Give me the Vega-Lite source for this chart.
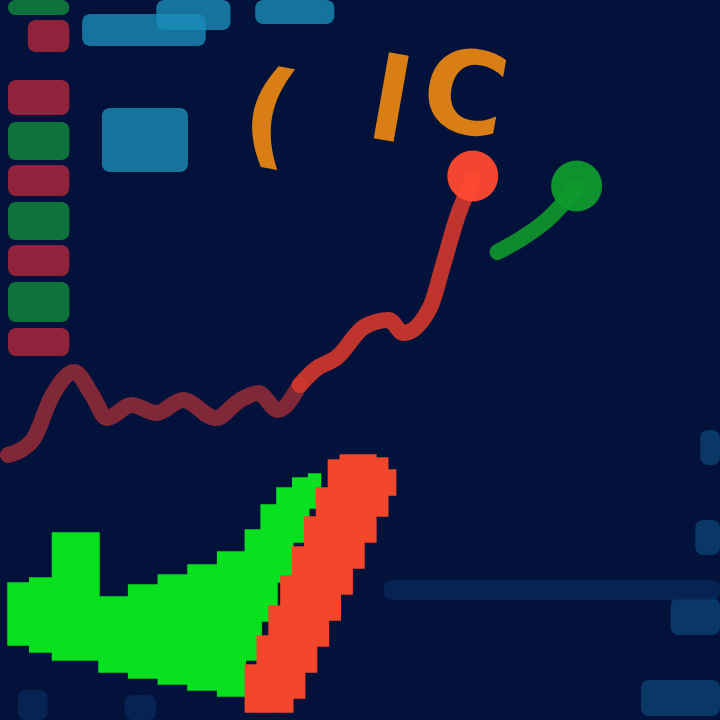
{
  "$schema": "https://vega.github.io/schema/vega-lite/v6.json",
  "width": 720,
  "height": 720,
  "autosize": {"type": "fit", "contains": "padding"},
  "padding": 0,
  "background": "#03123a",
  "config": {"view": {"stroke": null}, "axis": {"disable": true}},
  "datasets": {
    "blocks": [
      {"x": 0, "x2": 62, "y": 0, "y2": 15, "kind": "stripe_up"},
      {"x": 20, "x2": 62, "y": 20, "y2": 52, "kind": "stripe_down"},
      {"x": 0, "x2": 62, "y": 80, "y2": 115, "kind": "stripe_down"},
      {"x": 0, "x2": 62, "y": 122, "y2": 160, "kind": "stripe_up"},
      {"x": 0, "x2": 62, "y": 165, "y2": 196, "kind": "stripe_down"},
      {"x": 0, "x2": 62, "y": 202, "y2": 240, "kind": "stripe_up"},
      {"x": 0, "x2": 62, "y": 245, "y2": 276, "kind": "stripe_down"},
      {"x": 0, "x2": 62, "y": 282, "y2": 322, "kind": "stripe_up"},
      {"x": 0, "x2": 62, "y": 328, "y2": 356, "kind": "stripe_down"},
      {"x": 75, "x2": 200, "y": 14, "y2": 46, "kind": "cyan"},
      {"x": 150, "x2": 225, "y": 0, "y2": 30, "kind": "cyan"},
      {"x": 250, "x2": 330, "y": 0, "y2": 24, "kind": "cyan"},
      {"x": 95, "x2": 182, "y": 108, "y2": 172, "kind": "cyan"},
      {"x": 700, "x2": 720, "y": 430, "y2": 465, "kind": "cyan_faint"},
      {"x": 695, "x2": 720, "y": 520, "y2": 555, "kind": "cyan_faint"},
      {"x": 670, "x2": 720, "y": 598, "y2": 635, "kind": "cyan_faint"},
      {"x": 640, "x2": 720, "y": 680, "y2": 716, "kind": "cyan_faint"},
      {"x": 380, "x2": 720, "y": 580, "y2": 600, "kind": "band"},
      {"x": 10, "x2": 40, "y": 690, "y2": 720, "kind": "band"},
      {"x": 118, "x2": 150, "y": 695, "y2": 720, "kind": "band"}
    ],
    "volume": [
      {"x": 0, "x2": 22, "y": 583, "y2": 645, "dir": "up"},
      {"x": 22, "x2": 45, "y": 578, "y2": 652, "dir": "up"},
      {"x": 45, "x2": 92, "y": 533, "y2": 660, "dir": "up"},
      {"x": 92, "x2": 122, "y": 597, "y2": 672, "dir": "up"},
      {"x": 122, "x2": 152, "y": 585, "y2": 678, "dir": "up"},
      {"x": 152, "x2": 182, "y": 575, "y2": 684, "dir": "up"},
      {"x": 182, "x2": 212, "y": 565, "y2": 690, "dir": "up"},
      {"x": 212, "x2": 240, "y": 552, "y2": 696, "dir": "up"},
      {"x": 240, "x2": 256, "y": 530, "y2": 660, "dir": "up"},
      {"x": 256, "x2": 272, "y": 505, "y2": 621, "dir": "up"},
      {"x": 272, "x2": 288, "y": 488, "y2": 582, "dir": "up"},
      {"x": 288, "x2": 304, "y": 478, "y2": 542, "dir": "up"},
      {"x": 304, "x2": 316, "y": 474, "y2": 508, "dir": "up"},
      {"x": 240, "x2": 252, "y": 665, "y2": 712, "dir": "down"},
      {"x": 252, "x2": 264, "y": 636, "y2": 712, "dir": "down"},
      {"x": 264, "x2": 276, "y": 606, "y2": 712, "dir": "down"},
      {"x": 276, "x2": 288, "y": 576, "y2": 712, "dir": "down"},
      {"x": 288, "x2": 300, "y": 547, "y2": 698, "dir": "down"},
      {"x": 300, "x2": 312, "y": 517, "y2": 672, "dir": "down"},
      {"x": 312, "x2": 324, "y": 488, "y2": 646, "dir": "down"},
      {"x": 324, "x2": 336, "y": 460, "y2": 620, "dir": "down"},
      {"x": 336, "x2": 348, "y": 455, "y2": 594, "dir": "down"},
      {"x": 348, "x2": 360, "y": 455, "y2": 568, "dir": "down"},
      {"x": 360, "x2": 372, "y": 455, "y2": 542, "dir": "down"},
      {"x": 372, "x2": 384, "y": 458, "y2": 516, "dir": "down"},
      {"x": 384, "x2": 392, "y": 470, "y2": 495, "dir": "down"}
    ],
    "price": [
      {"t": 0, "p": 455, "seg": "dim"},
      {"t": 25, "p": 440, "seg": "dim"},
      {"t": 45, "p": 395, "seg": "dim"},
      {"t": 67, "p": 372, "seg": "dim"},
      {"t": 85, "p": 395, "seg": "dim"},
      {"t": 100, "p": 418, "seg": "dim"},
      {"t": 125, "p": 405, "seg": "dim"},
      {"t": 150, "p": 413, "seg": "dim"},
      {"t": 177, "p": 400, "seg": "dim"},
      {"t": 210, "p": 418, "seg": "dim"},
      {"t": 235, "p": 400, "seg": "dim"},
      {"t": 253, "p": 393, "seg": "dim"},
      {"t": 273, "p": 410, "seg": "dim"},
      {"t": 295, "p": 385, "seg": "dim"},
      {"t": 295, "p": 385, "seg": "bright"},
      {"t": 310, "p": 370, "seg": "bright"},
      {"t": 333, "p": 357, "seg": "bright"},
      {"t": 360, "p": 327, "seg": "bright"},
      {"t": 385, "p": 320, "seg": "bright"},
      {"t": 400, "p": 333, "seg": "bright"},
      {"t": 427, "p": 307, "seg": "bright"},
      {"t": 440, "p": 265, "seg": "bright"},
      {"t": 455, "p": 215, "seg": "bright"},
      {"t": 470, "p": 180, "seg": "bright"},
      {"t": 495, "p": 252, "seg": "green"},
      {"t": 520, "p": 238, "seg": "green"},
      {"t": 545, "p": 220, "seg": "green"},
      {"t": 575, "p": 188, "seg": "green"}
    ],
    "blobs": [
      {"t": 470, "p": 176, "kind": "red"},
      {"t": 575, "p": 186, "kind": "green"}
    ],
    "glyphs": [
      {"t": 258, "p": 152, "ch": "(", "tilt": 12},
      {"t": 380, "p": 140, "ch": "l", "tilt": 6},
      {"t": 455, "p": 132, "ch": "C", "tilt": 12}
    ]
  },
  "layer": [
    {
      "data": {"name": "blocks"},
      "mark": {"type": "rect", "cornerRadius": 8},
      "encoding": {
        "x": {"field": "x", "type": "quantitative", "scale": {"domain": [0, 720], "nice": false, "zero": false}},
        "x2": {"field": "x2"},
        "y": {"field": "y", "type": "quantitative", "scale": {"domain": [0, 720], "nice": false, "zero": false, "reverse": true}},
        "y2": {"field": "y2"},
        "color": {"field": "kind", "type": "nominal", "legend": null,
          "scale": {"domain": ["stripe_up", "stripe_down", "cyan", "cyan_faint", "band"],
                    "range": ["#138a3c", "#b3283c", "#1a8cb8", "#0c4272", "#07285a"]}},
        "opacity": {"field": "kind", "type": "nominal", "legend": null,
          "scale": {"domain": ["stripe_up", "stripe_down", "cyan", "cyan_faint", "band"],
                    "range": [0.8, 0.8, 0.85, 0.6, 0.35]}}
      }
    },
    {
      "data": {"name": "volume"},
      "mark": {"type": "rect", "cornerRadius": 0, "strokeWidth": 1.5},
      "encoding": {
        "x": {"field": "x", "type": "quantitative"},
        "x2": {"field": "x2"},
        "y": {"field": "y", "type": "quantitative"},
        "y2": {"field": "y2"},
        "color": {"field": "dir", "type": "nominal", "legend": null,
          "scale": {"domain": ["up", "down"], "range": ["#08e020", "#f2472a"]}},
        "stroke": {"field": "dir", "type": "nominal", "legend": null,
          "scale": {"domain": ["up", "down"], "range": ["#08e020", "#f2472a"]}}
      }
    },
    {
      "data": {"name": "price"},
      "mark": {"type": "line", "strokeWidth": 16, "strokeCap": "round", "strokeJoin": "round", "interpolate": "monotone", "opacity": 0.9},
      "encoding": {
        "x": {"field": "t", "type": "quantitative"},
        "y": {"field": "p", "type": "quantitative"},
        "detail": {"field": "seg"},
        "color": {"field": "seg", "type": "nominal", "legend": null,
          "scale": {"domain": ["dim", "bright", "green"], "range": ["#8e2a38", "#d4382c", "#0f9a2c"]}}
      }
    },
    {
      "data": {"name": "blobs"},
      "mark": {"type": "circle", "size": 2600, "opacity": 0.95},
      "encoding": {
        "x": {"field": "t", "type": "quantitative"},
        "y": {"field": "p", "type": "quantitative"},
        "color": {"field": "kind", "type": "nominal", "legend": null,
          "scale": {"domain": ["red", "green"], "range": ["#ff4a30", "#0f9a2c"]}}
      }
    },
    {
      "data": {"name": "glyphs"},
      "mark": {"type": "text", "font": "DejaVu Sans", "fontWeight": "bold", "fontSize": 115, "color": "#f08a12", "opacity": 0.9, "baseline": "alphabetic", "align": "center", "angle": 10},
      "encoding": {
        "x": {"field": "t", "type": "quantitative"},
        "y": {"field": "p", "type": "quantitative"},
        "text": {"field": "ch"}
      }
    }
  ],
  "resolve": {"scale": {"color": "independent", "opacity": "independent", "stroke": "independent"}}
}
